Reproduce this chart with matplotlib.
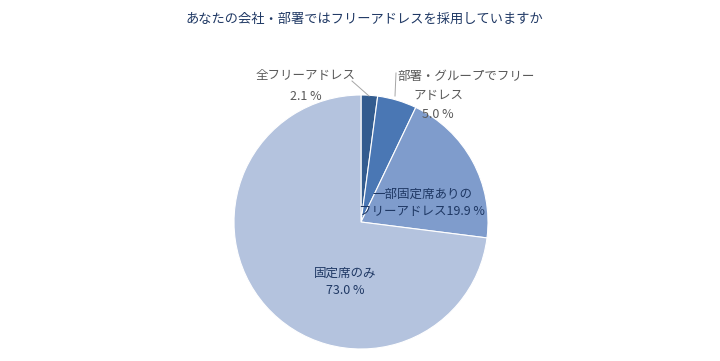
import matplotlib
matplotlib.use("Agg")
import matplotlib.pyplot as plt
import numpy as np

plt.rcParams['font.family'] = ['Noto Sans CJK JP', 'DejaVu Sans']

categories = ["全フリーアドレス", "部署・グループでフリー\nアドレス", "一部固定席ありの\nフリーアドレス", "固定席のみ"]
values = [2.1, 5.0, 19.9, 73.0]
colors = ["#335C8F", "#4A77B4", "#7F9CCC", "#B4C3DE"]
title = "あなたの会社・部署ではフリーアドレスを採用していますか"

W, H = 720, 361
fig = plt.figure(figsize=(W/100, H/100), dpi=100)
cx, cy, r = 361, 222, 127
ax = fig.add_axes([(cx - r)/W, (H - cy - r)/H, 2*r/W, 2*r/H])
ax.pie(values, colors=colors, startangle=90, counterclock=False,
       wedgeprops=dict(edgecolor="white", linewidth=0.8), radius=1.0)
ax.set_xlim(-1, 1)
ax.set_ylim(-1, 1)
ax.set_aspect("equal")
ax.axis("off")

def d(px, py):
    return ((px - cx)/r, (cy - py)/r)

gray = "#595959"
navy = "#1F3864"
fs = 9
ls = 1.3

# label 1
x, y = d(306, 76)
ax.text(x, y, categories[0], ha="center", va="center", color=gray, fontsize=fs, clip_on=False)
x, y = d(306, 97)
ax.text(x, y, f"{values[0]} %", ha="center", va="center", color=gray, fontsize=fs, clip_on=False)
ax.plot(*zip(d(352, 81), d(369, 96)), color="#A6A6A6", lw=0.7, clip_on=False)
# label 2
l1, l2 = categories[1].split("\n")
x, y = d(397, 76)
ax.text(x, y, l1, ha="left", va="center", color=gray, fontsize=fs, clip_on=False)
x, y = d(438, 95)
ax.text(x, y, l2, ha="center", va="center", color=gray, fontsize=fs, clip_on=False)
x, y = d(438, 114)
ax.text(x, y, f"{values[1]} %", ha="center", va="center", color=gray, fontsize=fs, clip_on=False)
ax.plot(*zip(d(396, 73), d(395, 96)), color="#A6A6A6", lw=0.7, clip_on=False)
# label 3
x, y = d(422, 203)
ax.text(x, y, f"{categories[2]}{values[2]} %", ha="center", va="center",
        color=navy, fontsize=fs, linespacing=1.45, clip_on=False)
# label 4
x, y = d(345, 282)
ax.text(x, y, f"{categories[3]}\n{values[3]} %", ha="center", va="center",
        color=navy, fontsize=fs, linespacing=1.45, clip_on=False)

fig.text(364/W, 1 - 19/H, title, ha="center", va="center", color=navy, fontsize=9.5)

fig.savefig("out.png", dpi=100)
